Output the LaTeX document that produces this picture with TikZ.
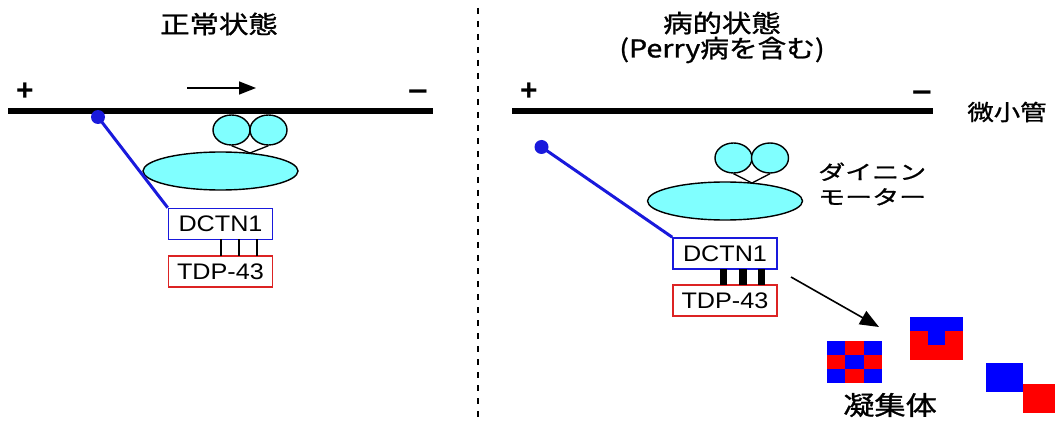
\documentclass[tikz,border=0pt]{standalone}
\usepackage{graphicx}
\usepackage{fontspec}
\setmainfont{Liberation Sans}
\newfontfamily\jpfont{Noto Sans CJK JP}[FakeBold=1]
\usetikzlibrary{arrows.meta,shapes.geometric}
\definecolor{dynein}{RGB}{128,255,255}
\definecolor{dblue}{RGB}{25,25,220}
\definecolor{dred}{RGB}{220,35,35}
\definecolor{ablue}{RGB}{0,0,255}
\definecolor{ared}{RGB}{255,0,0}
\begin{document}
\begin{tikzpicture}[x=1pt,y=-1pt,
  mt/.style={line width=6.5pt,black},
  sign/.style={font=\bfseries\fontsize{30}{30}\selectfont,inner sep=0},
  headc/.style={draw,fill=dynein,line width=1.4pt,ellipse,minimum width=37pt,minimum height=30pt,inner sep=0},
  body/.style={draw,fill=dynein,line width=1.4pt,ellipse,minimum width=155pt,minimum height=38pt,inner sep=0},
  jp/.style={font=\jpfont\fontsize{24.5}{30}\selectfont,align=center,inner sep=0},
  jps/.style={font=\jpfont\fontsize{20}{25}\selectfont,align=left,inner sep=0},
  pbox/.style={draw,line width=1.6pt,fill=white,minimum width=104pt,minimum height=31pt,inner sep=0,font=\fontsize{22.5}{22.5}\selectfont},
  link/.style={dblue,line width=3pt},
  dot/.style={circle,fill=dblue,minimum size=14pt,inner sep=0},
  bond/.style={line width=2.5pt},
  sbond/.style={line width=7.5pt},
  stalk/.style={line width=1.3pt},
]
\useasboundingbox (0,0) rectangle (1055,422);

% panel divider
\draw[line width=2.5pt,dash pattern=on 6pt off 7pt] (478,8) -- (478,422);

% titles
\node[jp] (tL) at (219,24) {\scalebox{1.2}[1]{正常状態}};
\node[jp] (tR1) at (722,23) {\scalebox{1.2}[1]{病的状態}};
\node[jp] (tR2) at (722,50) {\scalebox{1.17}[1]{(Perry病を含む)}};

% ---------- normal state ----------
\coordinate (mtL1) at (8,111);
\coordinate (mtL2) at (433,111);
\draw[mt] (mtL1) -- (mtL2);
\node[sign] (plusL) at (25,92) {+};
\node[sign] (minusL) at (418,96) {\scalebox{1.15}[1]{−}};
\coordinate (dirA) at (187,88);
\coordinate (dirB) at (256,88);
\draw[line width=1.6pt,-{Triangle[length=17pt,width=13pt]}] (dirA) -- (dirB);

\node[body] (bodyL) at (220.5,171) {};
\node[headc] (h1L) at (231.5,130) {};
\node[headc] (h2L) at (268.5,130) {};
\coordinate (vL) at (250,153);
\draw[stalk] (h1L.south) -- (vL) -- (h2L.south);

\node[pbox,draw=dblue] (dcL) at (220.5,224) {\scalebox{1.12}[1]{DCTN1}};
\node[pbox,draw=dred] (tdL) at (220.5,271.5) {\scalebox{1.12}[1]{TDP-43}};
\foreach \x in {221,239,257}
  \draw[bond] (\x,{224+15.5}) -- (\x,{271.5-15.5});

\node[dot] (dotL) at (98,117) {};
\draw[link] (dotL.center) -- (dcL.north west);

% ---------- disease state ----------
\coordinate (mtR1) at (512,111);
\coordinate (mtR2) at (933,111);
\draw[mt] (mtR1) -- (mtR2);
\node[sign] (plusR) at (529,92) {+};
\node[sign] (minusR) at (922,97) {\scalebox{1.15}[1]{−}};
\node[jps,font=\jpfont\fontsize{22}{25}\selectfont] (mtlabel) at (1007,112) {\scalebox{1.2}[1]{微小管}};

\node[body] (bodyR) at (725,201) {};
\node[headc] (h1R) at (733.5,158) {};
\node[headc] (h2R) at (770,158) {};
\coordinate (vR) at (752,183);
\draw[stalk] (h1R.south) -- (vR) -- (h2R.south);
\node[jps,anchor=west] (dynlabel) at (818,184) {\scalebox{1.35}[1]{ダイニン}\\[0pt]\scalebox{1.35}[1]{モーター}};

\node[pbox,draw=dblue] (dcR) at (725,253.5) {\scalebox{1.12}[1]{DCTN1}};
\node[pbox,draw=dred] (tdR) at (725,300.5) {\scalebox{1.12}[1]{TDP-43}};
\foreach \x in {723.5,743,761.5}
  \draw[sbond] (\x,{253.5+15.5}) -- (\x,{300.5-15.5});

\node[dot] (dotR) at (541.5,147) {};
\draw[link] (dotR.center) -- (dcR.north west);

\coordinate (aggA) at (791,277);
\coordinate (aggB) at (879,327);
\draw[line width=1.6pt,-{Triangle[length=19pt,width=15pt]}] (aggA) -- (aggB);

% aggregates: 3x3 checkerboard
\foreach \i in {0,1,2}
  \foreach \j in {0,1,2}{
    \pgfmathparse{mod(\i+\j,2)==0 ? "ablue" : "ared"}
    \edef\cellcol{\pgfmathresult}
    \fill[\cellcol] ({827+\i*18.4},{341+\j*14}) rectangle ++(18.4,14);
  }
% aggregate with notch
\fill[ared] (910,330) rectangle (963,360);
\fill[ablue] (910,317) rectangle (963,331);
\fill[ablue] (928,330) rectangle (945,345);
% two offset squares
\fill[ablue] (986,363) rectangle (1023,392);
\fill[ared] (1023,384) rectangle (1055,413);

\node[jp,font=\jpfont\fontsize{26}{30}\selectfont] (agglabel) at (890,405) {\scalebox{1.2}[1]{凝集体}};
\end{tikzpicture}
\end{document}
